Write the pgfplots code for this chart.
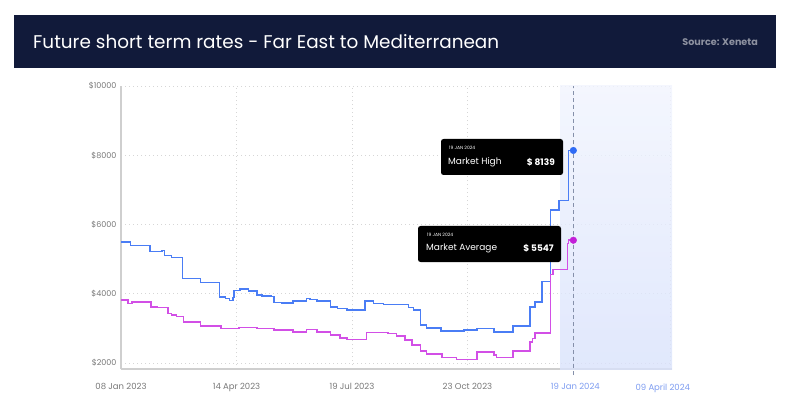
\documentclass[border=0pt]{standalone}
\usepackage{fontspec}
\setmainfont{Poppins}
\usepackage{pgfplots}
\pgfplotsset{compat=1.18}
\definecolor{navy}{HTML}{111A3A}
\definecolor{highblue}{HTML}{4A7DF5}
\definecolor{avgpink}{HTML}{D24FE6}
\definecolor{dotblue}{HTML}{2F6BF5}
\definecolor{dotpink}{HTML}{C21FD8}
\definecolor{srcgrey}{HTML}{8D91A0}
\definecolor{tickgrey}{HTML}{777777}
\definecolor{tickblue}{HTML}{7D9CF0}
\definecolor{axisgrey}{HTML}{CFCFCF}
\definecolor{gridgrey}{HTML}{D6D6D6}
\definecolor{shadetop}{HTML}{F1F4FE}
\definecolor{shadebot}{HTML}{D9E2FB}
\definecolor{nowline}{HTML}{8590AA}

\begin{document}
\begin{tikzpicture}
\path (0pt,0pt) rectangle (791pt,415pt);
% header bar
\fill[navy] (14pt,347pt) rectangle (776pt,400pt);
\node[anchor=west, white, inner sep=0, font=\fontsize{18.4}{21}\selectfont]
  at (33pt,373pt) {Future short term rates - Far East to Mediterranean};
\node[anchor=east, srcgrey, inner sep=0, font=\fontsize{9.6}{11}\selectfont\bfseries]
  at (758pt,373pt) {Source: Xeneta};

\begin{axis}[
  at={(121pt,46pt)}, anchor=south west,
  scale only axis, width=551pt, height=283pt,
  xmin=0, xmax=458, ymin=1830, ymax=10000,
  axis lines=left, clip=false,
  axis line style={-, draw=axisgrey, line width=1.5pt},
  scaled y ticks=false,
  xtick={0,96,192,288,376,457},
  xticklabels={{08 Jan 2023},{14 Apr 2023},{19 Jul 2023},{23 Oct 2023},
    {\textcolor{tickblue}{19 Jan 2024}\hspace*{-4pt}},{\textcolor{tickblue}{09 April 2024}\hspace*{16pt}}},
  ytick={2000,4000,6000,8000,10000},
  yticklabels={{\$2000},{\$4000},{\$6000},{\$8000},{\$10000}},
  major tick length=0pt,
  xticklabel style={font=\fontsize{8.5}{10}\selectfont, text=tickgrey, yshift=-11pt},
  yticklabel style={font=\fontsize{8}{10}\selectfont, text=tickgrey, xshift=-1pt},
  grid=major,
  grid style={draw=gridgrey, line width=0.8pt, dash pattern=on 1pt off 3pt},
  no markers,
]
% forecast shade
\addplot[draw=none, top color=shadetop, bottom color=shadebot, fill opacity=0.8, forget plot]
  coordinates {(365,1830) (458,1830) (458,10000) (365,10000)};
\draw[nowline, line width=1pt, dash pattern=on 4pt off 3pt]
  (axis cs:376,1650) -- (axis cs:376,10000);

% market high
\addplot[const plot, highblue, line width=1.5pt] coordinates {
  (0,5500) (8,5390) (24,5215) (34,5250) (36,5110) (42,5050) (51,4440)
  (66,4320) (82,3915) (87,3870) (90,3810) (93,3900) (94,4090) (99,4140)
  (106,4080) (113,3970) (117,3935) (125,3920) (127,3750) (134,3730)
  (143,3790) (154,3870) (157,3830) (163,3790) (174,3625) (180,3580)
  (188,3530) (203,3790) (210,3720) (218,3690) (239,3600) (243,3530)
  (249,3100) (254,3020) (266,2920) (285,2950) (296,3000) (310,2900)
  (326,3070) (340,3625) (344,3770) (350,4350) (357,6420) (364,6690)
  (372,8139) (376,8139)
};
% market average
\addplot[const plot, avgpink, line width=1.5pt] coordinates {
  (0,3820) (6,3720) (9,3770) (25,3625) (30,3600) (39,3435) (42,3385)
  (46,3340) (52,3190) (66,3070) (83,3000) (98,3030) (113,3000) (127,2955)
  (143,2900) (154,2975) (163,2900) (174,2810) (182,2730) (188,2685)
  (204,2885) (222,2855) (229,2780) (236,2665) (242,2520) (249,2355)
  (254,2260) (267,2165) (279,2107) (296,2325) (310,2230) (312,2165)
  (326,2355) (340,2615) (342,2710) (344,2875) (357,4560) (359,4700)
  (371,5460) (372,5547) (376,5547)
};
\addplot[only marks, mark=*, mark size=3.3pt, dotblue] coordinates {(376,8139)};
\addplot[only marks, mark=*, mark size=3.3pt, dotpink] coordinates {(376,5547)};
\end{axis}

% tooltips
\fill[black, rounded corners=2.5pt] (441pt,240pt) rectangle (563pt,276pt);
\node[anchor=west, white, inner sep=0, font=\fontsize{4.5}{5}\selectfont] at (449pt,267pt) {19 JAN 2024};
\node[anchor=west, white, inner sep=0, font=\fontsize{9}{11}\selectfont] at (448pt,253pt) {Market High};
\node[anchor=east, white, inner sep=0, font=\fontsize{9}{11}\selectfont\bfseries] at (555pt,253pt) {\$ 8139};

\fill[black, rounded corners=2.5pt] (418pt,153pt) rectangle (561pt,189pt);
\node[anchor=west, white, inner sep=0, font=\fontsize{4.5}{5}\selectfont] at (427pt,180pt) {19 JAN 2024};
\node[anchor=west, white, inner sep=0, font=\fontsize{9}{11}\selectfont] at (426pt,167pt) {Market Average};
\node[anchor=east, white, inner sep=0, font=\fontsize{9}{11}\selectfont\bfseries] at (554pt,167pt) {\$ 5547};
\end{tikzpicture}
\end{document}
